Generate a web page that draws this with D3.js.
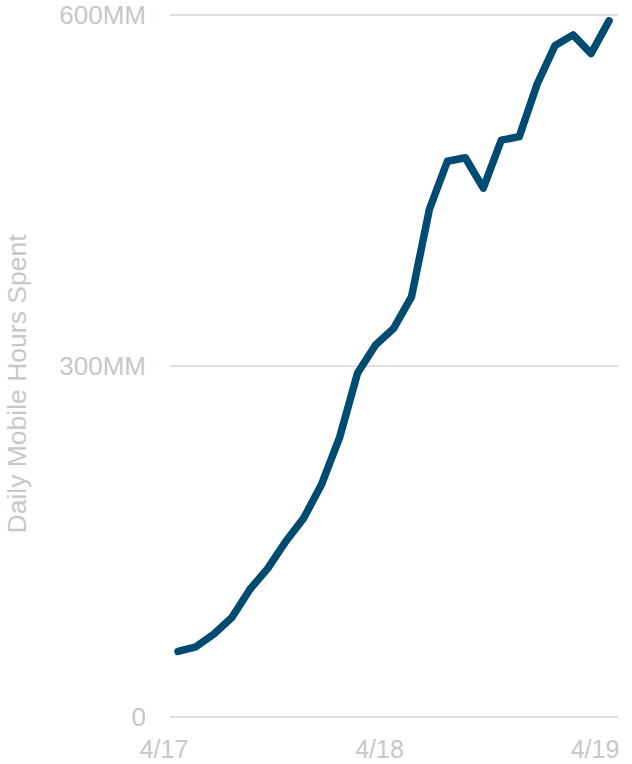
<!DOCTYPE html>
<html>
<head>
<meta charset="utf-8">
<script src="https://cdn.jsdelivr.net/npm/d3@7"></script>
<style>
  body { margin: 0; background: #fff; }
  text { font-family: "Liberation Sans", Arial, sans-serif; fill: #c7c7c9; }
</style>
</head>
<body>
<div id="chart"></div>
<script>
// monthly points, April 2017 to April 2019
const months = ["4/17","5/17","6/17","7/17","8/17","9/17","10/17","11/17","12/17","1/18","2/18","3/18",
                "4/18","5/18","6/18","7/18","8/18","9/18","10/18","11/18","12/18","1/19","2/19","3/19","4/19"];
// daily mobile hours spent, millions
const hours = [56, 60, 71, 85, 109, 127, 150, 170, 199, 239, 294, 318,
               332, 359, 434, 475, 478, 452, 493, 496, 541, 574, 583, 567, 595];
const xTickLabels = ["4/17", "4/18", "4/19"];
const yTicks = [0, 300, 600];
const yTickLabels = ["0", "300MM", "600MM"];

const width = 632, height = 764;

const svg = d3.select("#chart").append("svg")
  .attr("width", width)
  .attr("height", height);

const x = d3.scalePoint()
  .domain(months)
  .range([178, 609]);

const y = d3.scaleLinear()
  .domain([0, 600])
  .range([717, 15]);

// gridlines
svg.append("g")
  .selectAll("line")
  .data(yTicks)
  .enter()
  .append("line")
    .attr("x1", 170)
    .attr("x2", 618)
    .attr("y1", d => y(d))
    .attr("y2", d => y(d))
    .attr("stroke", "#dedee1")
    .attr("stroke-width", 2);

// y tick labels
svg.append("g")
  .selectAll("text")
  .data(yTicks)
  .enter()
  .append("text")
    .attr("x", 146)
    .attr("y", d => y(d))
    .attr("dy", "0.36em")
    .attr("text-anchor", "end")
    .style("font-size", "26px")
    .text((d, i) => yTickLabels[i]);

// x tick labels
svg.append("g")
  .selectAll("text")
  .data(xTickLabels)
  .enter()
  .append("text")
    .attr("x", d => x(d) - 14)
    .attr("y", 758)
    .attr("text-anchor", "middle")
    .style("font-size", "25px")
    .text(d => d);

// axis title
svg.append("text")
  .attr("transform", "translate(26,384)rotate(-90)")
  .attr("text-anchor", "middle")
  .style("font-size", "26.5px")
  .text("Daily Mobile Hours Spent");

const line = d3.line()
  .x((d, i) => x(months[i]))
  .y(d => y(d));

svg.append("path")
  .attr("d", line(hours))
  .attr("fill", "none")
  .attr("stroke", "#004b71")
  .attr("stroke-width", 7.5)
  .attr("stroke-linejoin", "round")
  .attr("stroke-linecap", "round");
</script>
</body>
</html>
